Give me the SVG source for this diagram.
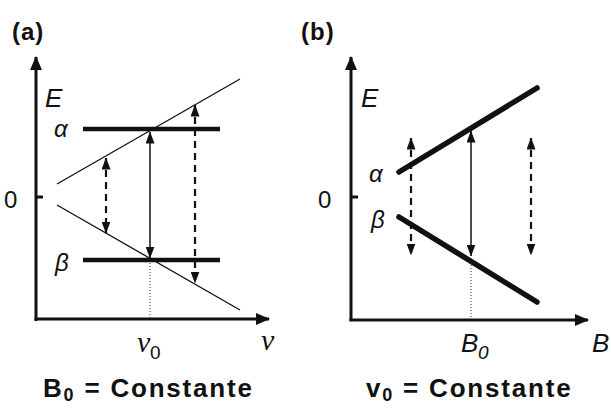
<svg xmlns="http://www.w3.org/2000/svg" width="611" height="408" viewBox="0 0 611 408">
<style>
.ax{stroke:#111;stroke-width:3;fill:none}
.lvl{stroke:#111;stroke-width:4.5;fill:none}
.thin{stroke:#111;stroke-width:1.3;fill:none}
.thick{stroke:#111;stroke-width:5.5;stroke-linecap:round;fill:none}
.sol{stroke:#111;stroke-width:1.5;fill:none}
.dsh{stroke:#111;stroke-width:2.2;stroke-dasharray:7,5;fill:none}
.dot{stroke:#333;stroke-width:1;stroke-dasharray:1,2;fill:none}
text{font-family:"Liberation Sans",Arial,sans-serif;fill:#111}
.it{font-style:italic}
.gr{font-family:"Liberation Serif","Times New Roman",serif;font-style:italic}
.cap{font-weight:bold;font-size:26px;letter-spacing:1.8px}
.pl{font-weight:bold;font-size:24px;letter-spacing:1px}
</style>
<defs>
<marker id="axh" viewBox="0 0 14 12" refX="13" refY="6" markerWidth="14" markerHeight="12" markerUnits="userSpaceOnUse" orient="auto">
<path d="M0,0 L14,6 L0,12 Z" fill="#111"/>
</marker>
<marker id="ah" viewBox="0 0 12 9" refX="11.5" refY="4.5" markerWidth="12" markerHeight="9" markerUnits="userSpaceOnUse" orient="auto-start-reverse">
<path d="M0,0 L12,4.5 L0,9 Z" fill="#111"/>
</marker>
</defs>
<rect width="611" height="408" fill="#fff"/>
<g id="panel-a">
<text x="12" y="40" class="pl">(a)</text>
<line class="ax" x1="36" y1="321" x2="36" y2="57" marker-end="url(#axh)"/>
<line class="ax" x1="34.5" y1="319" x2="269" y2="319" marker-end="url(#axh)"/>
<line class="ax" x1="36" y1="197" x2="43" y2="197" stroke-width="2"/>
<text x="45" y="107" class="it" font-size="26">E</text>
<text x="4" y="208" font-size="24">0</text>
<text x="54" y="137" class="it" font-size="24">α</text>
<text x="55" y="271" class="it" font-size="24">β</text>
<line class="thin" x1="57" y1="184" x2="240" y2="79"/>
<line class="thin" x1="57" y1="205" x2="240" y2="310"/>
<line id="alpha-a" class="lvl" x1="83" y1="129" x2="220" y2="129"/>
<line id="beta-a" class="lvl" x1="83" y1="260" x2="220" y2="260"/>
<line class="dot" x1="150" y1="263" x2="150" y2="318"/>
<text x="137" y="352" class="gr" font-size="30">ν</text>
<text x="150" y="359" font-size="19">0</text>
<text x="261" y="350" class="gr" font-size="30">ν</text>
<text x="43" y="397" class="cap">B<tspan font-size="18" dy="4">0</tspan><tspan dy="-4"> = Constante</tspan></text>
</g>
<g id="panel-b">
<text x="301" y="40" class="pl">(b)</text>
<line class="ax" x1="351" y1="321" x2="351" y2="57" marker-end="url(#axh)"/>
<line class="ax" x1="349.5" y1="320" x2="588" y2="320" marker-end="url(#axh)"/>
<line class="ax" x1="351" y1="197" x2="358" y2="197" stroke-width="2"/>
<text x="361" y="107" class="it" font-size="26">E</text>
<text x="318" y="208" font-size="24">0</text>
<text x="369" y="182" class="it" font-size="24">α</text>
<text x="371" y="228" class="it" font-size="24">β</text>
<line id="alpha-b" class="thick" x1="399" y1="172" x2="537" y2="88"/>
<line id="beta-b" class="thick" x1="399" y1="217" x2="537" y2="302"/>
<line class="dot" x1="471" y1="262" x2="471" y2="319"/>
<text x="461" y="352" class="it" font-size="26">B</text>
<text x="478" y="359" class="it" font-size="19">0</text>
<text x="592" y="352" class="it" font-size="26">B</text>
<text x="366" y="397" class="cap">v<tspan font-size="18" dy="4">0</tspan><tspan dy="-4"> = Constante</tspan></text>
</g>
<g id="connectors">
<line class="sol" x1="150" y1="132" x2="150" y2="258" marker-start="url(#ah)" marker-end="url(#ah)"/>
<line class="dsh" x1="106" y1="158" x2="106" y2="233" marker-start="url(#ah)" marker-end="url(#ah)"/>
<line class="dsh" x1="195" y1="105" x2="195" y2="283" marker-start="url(#ah)" marker-end="url(#ah)"/>
<line class="sol" x1="471" y1="131" x2="471" y2="256" marker-start="url(#ah)" marker-end="url(#ah)"/>
<line class="dsh" x1="411" y1="138" x2="411" y2="255" marker-start="url(#ah)" marker-end="url(#ah)"/>
<line class="dsh" x1="531" y1="138" x2="531" y2="255" marker-start="url(#ah)" marker-end="url(#ah)"/>
</g>
</svg>
